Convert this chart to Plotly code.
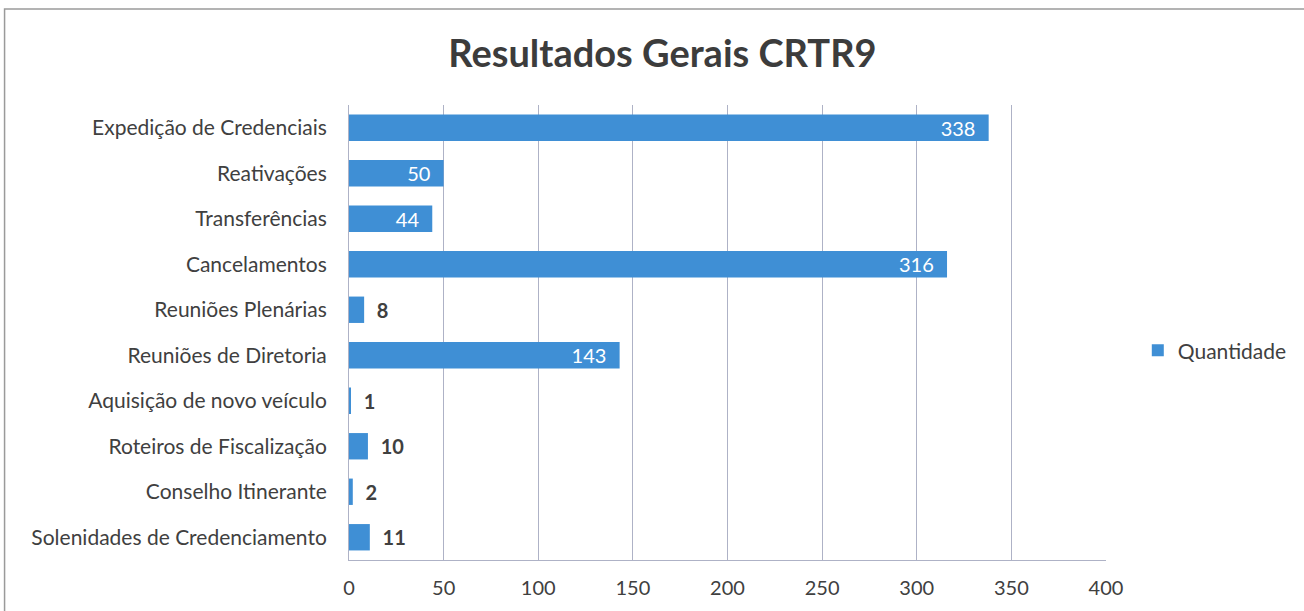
import plotly.graph_objects as go

categories = [
    "Expedição de Credenciais",
    "Reativações",
    "Transferências",
    "Cancelamentos",
    "Reuniões Plenárias",
    "Reuniões de Diretoria",
    "Aquisição de novo veículo",
    "Roteiros de Fiscalização",
    "Conselho Itinerante",
    "Solenidades de Credenciamento",
]
quantidade = [338, 50, 44, 316, 8, 143, 1, 10, 2, 11]
x_ticks = [0, 50, 100, 150, 200, 250, 300, 350, 400]

FONT = "Lato"
BAR = "#3f8fd5"
GRID = "#aeb2c6"
TXT = "#404040"
NB = "\u00a0"

positions = ["inside" if v >= 40 else "outside" for v in quantidade]
labels = [(str(v) + NB * 2) if v >= 40 else (NB * 2 + str(v)) for v in quantidade]

fig = go.Figure()
fig.add_trace(go.Bar(
    x=quantidade,
    y=categories,
    orientation="h",
    name="Quantidade",
    marker=dict(color=BAR, line=dict(width=0)),
    text=labels,
    textposition=positions,
    textangle=0,
    insidetextanchor="end",
    insidetextfont=dict(family=FONT, size=20, color="white"),
    outsidetextfont=dict(family=FONT, size=20, color=TXT, weight="bold"),
    constraintext="none",
    cliponaxis=False,
    width=0.58,
))

fig.update_layout(
    width=1304,
    height=611,
    paper_bgcolor="white",
    plot_bgcolor="white",
    margin=dict(l=349, r=198, t=105, b=51, autoexpand=False),
    title=dict(
        text="<b>Resultados Gerais CRTR9</b>",
        font=dict(family=FONT, size=38, color="#3c3c3c"),
        x=0.508, xanchor="center", y=0.912, yanchor="middle",
        automargin=False,
    ),
    showlegend=True,
    legend=dict(
        x=1.042, xanchor="left", y=0.46, yanchor="middle",
        font=dict(family=FONT, size=21, color=TXT),
        itemwidth=30,
    ),
    font=dict(family=FONT, size=20, color=TXT),
    bargap=0.42,
)

fig.update_xaxes(
    range=[0, 400],
    tickvals=x_ticks,
    showgrid=True,
    gridcolor=GRID,
    gridwidth=1,
    showline=True,
    linecolor=GRID,
    linewidth=1,
    zeroline=False,
    ticks="",
    ticklabelstandoff=10,
    automargin=False,
    tickfont=dict(family=FONT, size=20, color=TXT),
)
fig.update_yaxes(
    autorange="reversed",
    showline=True,
    linecolor=GRID,
    linewidth=1,
    showgrid=False,
    ticks="",
    ticklabelstandoff=17,
    automargin=False,
    tickfont=dict(family=FONT, size=21, color=TXT),
)

fig.add_shape(
    type="rect", xref="paper", yref="paper",
    x0=-0.455, x1=1.30, y0=-0.2, y1=1.211,
    line=dict(color="#9a9a9a", width=1.5),
    fillcolor="rgba(0,0,0,0)",
    layer="below",
)

fig.write_html(
    "out.html",
    config={"displayModeBar": False},
    post_script="document.body.style.margin='0';document.body.style.overflow='hidden';",
)
